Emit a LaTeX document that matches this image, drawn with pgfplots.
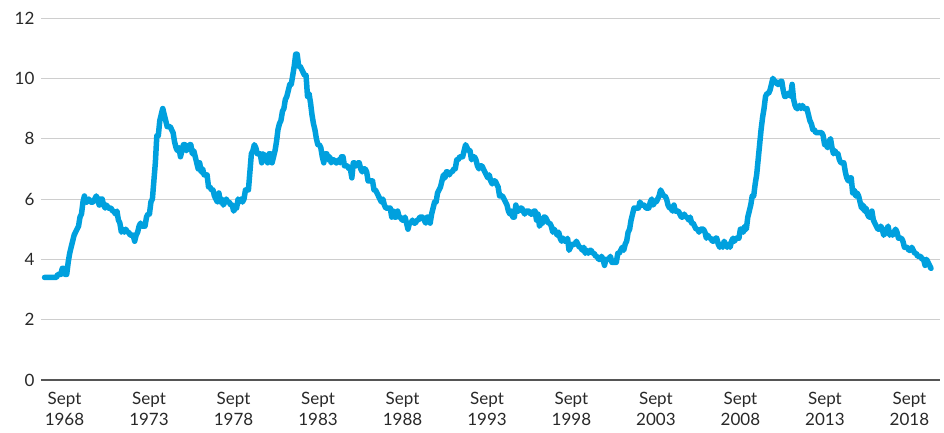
\documentclass[border=0pt]{standalone}
\usepackage{fontspec}
\setmainfont{Lato}
\usepackage{pgfplots}
\pgfplotsset{compat=1.18}
\definecolor{lineblue}{RGB}{0,160,222}
\definecolor{gridgray}{RGB}{206,206,206}
\definecolor{axisgray}{RGB}{85,85,85}
\definecolor{textgray}{RGB}{40,40,40}

\begin{document}
\begin{tikzpicture}
\begin{axis}[
  scale only axis, width=899pt, height=362pt,
  xmin=-2.4, xmax=606.1, ymin=0, ymax=12,
  ytick={2,4,...,12},
  extra y ticks={0},
  extra y tick style={grid style={axisgray, line width=1.6pt}},
  ymajorgrids, grid style={gridgray, line width=1pt},
  axis line style={draw=none},
  major tick length=0pt,
  xtick={13.5,70.7,127.9,185.1,242.3,299.5,356.6,413.8,471.0,528.2,585.4},
  xticklabels={{Sept\\1968},{Sept\\1973},{Sept\\1978},{Sept\\1983},{Sept\\1988},{Sept\\1993},{Sept\\1998},{Sept\\2003},{Sept\\2008},{Sept\\2013},{Sept\\2018}},
  tick label style={font=\fontsize{17}{20.5}\selectfont, text=textgray},
  xticklabel style={align=center, yshift=-9pt},
  yticklabel style={xshift=-3pt},
  /pgf/number format/assume math mode=true,
  clip=false,
]
% monthly rate, Sept 1968 = 0
\addplot[lineblue, line width=5.5pt, line join=round, line cap=round, no markers]
  table[row sep=\\, x expr=\coordindex, y index=0] {
u\\
3.4\\3.4\\3.4\\3.4\\
3.4\\3.4\\3.4\\3.4\\3.4\\3.5\\3.5\\3.5\\3.7\\3.7\\3.5\\3.5\\
3.9\\4.2\\4.4\\4.6\\4.8\\4.9\\5.0\\5.1\\5.4\\5.5\\5.9\\6.1\\
5.9\\5.9\\6.0\\5.9\\5.9\\5.9\\6.0\\6.1\\6.0\\5.8\\6.0\\6.0\\
5.8\\5.7\\5.8\\5.7\\5.7\\5.7\\5.6\\5.6\\5.5\\5.6\\5.3\\5.2\\
4.9\\5.0\\4.9\\5.0\\4.9\\4.9\\4.8\\4.8\\4.8\\4.6\\4.8\\4.9\\
5.1\\5.2\\5.1\\5.1\\5.1\\5.4\\5.5\\5.5\\5.9\\6.0\\6.6\\7.2\\
8.1\\8.1\\8.6\\8.8\\9.0\\8.8\\8.6\\8.4\\8.4\\8.4\\8.3\\8.2\\
7.9\\7.7\\7.6\\7.7\\7.4\\7.6\\7.8\\7.8\\7.6\\7.7\\7.8\\7.8\\
7.5\\7.6\\7.4\\7.2\\7.0\\7.2\\6.9\\7.0\\6.8\\6.8\\6.8\\6.4\\
6.4\\6.3\\6.3\\6.1\\6.0\\5.9\\6.2\\5.9\\6.0\\5.8\\5.9\\6.0\\
5.9\\5.9\\5.8\\5.8\\5.6\\5.7\\5.7\\6.0\\5.9\\6.0\\5.9\\6.0\\
6.3\\6.3\\6.3\\6.9\\7.5\\7.6\\7.8\\7.7\\7.5\\7.5\\7.5\\7.2\\
7.5\\7.4\\7.4\\7.2\\7.5\\7.5\\7.2\\7.4\\7.6\\7.9\\8.3\\8.5\\
8.6\\8.9\\9.0\\9.3\\9.4\\9.6\\9.8\\9.8\\10.1\\10.4\\10.8\\10.8\\
10.4\\10.4\\10.3\\10.2\\10.1\\10.1\\9.4\\9.5\\9.2\\8.8\\8.5\\8.3\\
8.0\\7.8\\7.8\\7.7\\7.4\\7.2\\7.5\\7.5\\7.3\\7.4\\7.2\\7.3\\
7.3\\7.2\\7.2\\7.3\\7.2\\7.4\\7.4\\7.1\\7.1\\7.1\\7.0\\7.0\\
6.7\\7.2\\7.2\\7.1\\7.2\\7.2\\7.0\\6.9\\7.0\\7.0\\6.9\\6.6\\
6.6\\6.6\\6.6\\6.3\\6.3\\6.2\\6.1\\6.0\\5.9\\6.0\\5.8\\5.7\\
5.7\\5.7\\5.7\\5.4\\5.6\\5.4\\5.4\\5.6\\5.4\\5.4\\5.3\\5.3\\
5.4\\5.2\\5.0\\5.2\\5.2\\5.3\\5.2\\5.2\\5.3\\5.3\\5.4\\5.4\\
5.4\\5.3\\5.2\\5.4\\5.4\\5.2\\5.5\\5.7\\5.9\\5.9\\6.2\\6.3\\
6.4\\6.6\\6.8\\6.7\\6.9\\6.9\\6.8\\6.9\\6.9\\7.0\\7.0\\7.3\\
7.3\\7.4\\7.4\\7.4\\7.6\\7.8\\7.7\\7.6\\7.6\\7.3\\7.4\\7.4\\
7.3\\7.1\\7.0\\7.1\\7.1\\7.0\\6.9\\6.8\\6.7\\6.8\\6.6\\6.5\\
6.6\\6.6\\6.5\\6.4\\6.1\\6.1\\6.1\\6.0\\5.9\\5.8\\5.6\\5.5\\
5.6\\5.4\\5.4\\5.8\\5.6\\5.6\\5.7\\5.7\\5.6\\5.5\\5.6\\5.6\\
5.6\\5.5\\5.5\\5.6\\5.6\\5.3\\5.5\\5.1\\5.2\\5.2\\5.4\\5.4\\
5.3\\5.2\\5.2\\5.1\\4.9\\5.0\\4.9\\4.8\\4.9\\4.7\\4.6\\4.7\\
4.6\\4.6\\4.7\\4.3\\4.4\\4.5\\4.5\\4.5\\4.6\\4.5\\4.4\\4.4\\
4.3\\4.4\\4.2\\4.3\\4.2\\4.3\\4.3\\4.2\\4.2\\4.1\\4.1\\4.0\\
4.0\\4.1\\4.0\\3.8\\4.0\\4.0\\4.0\\4.1\\3.9\\3.9\\3.9\\3.9\\
4.2\\4.2\\4.3\\4.4\\4.3\\4.5\\4.6\\4.9\\5.0\\5.3\\5.5\\5.7\\
5.7\\5.7\\5.7\\5.9\\5.8\\5.8\\5.8\\5.7\\5.7\\5.7\\5.9\\6.0\\
5.8\\5.9\\5.9\\6.0\\6.1\\6.3\\6.2\\6.1\\6.1\\6.0\\5.8\\5.7\\
5.7\\5.6\\5.8\\5.6\\5.6\\5.6\\5.5\\5.4\\5.4\\5.5\\5.4\\5.4\\
5.3\\5.4\\5.2\\5.2\\5.1\\5.0\\5.0\\4.9\\5.0\\5.0\\5.0\\4.9\\
4.7\\4.8\\4.7\\4.7\\4.6\\4.6\\4.7\\4.7\\4.5\\4.4\\4.5\\4.4\\
4.6\\4.5\\4.4\\4.5\\4.4\\4.6\\4.7\\4.6\\4.7\\4.7\\4.7\\5.0\\
5.0\\4.9\\5.1\\5.0\\5.4\\5.6\\5.8\\6.1\\6.1\\6.5\\6.8\\7.3\\
7.8\\8.3\\8.7\\9.0\\9.4\\9.5\\9.5\\9.6\\9.8\\10.0\\9.9\\9.9\\
9.8\\9.8\\9.9\\9.9\\9.6\\9.4\\9.4\\9.5\\9.5\\9.4\\9.8\\9.3\\
9.1\\9.0\\9.0\\9.1\\9.0\\9.1\\9.0\\9.0\\9.0\\8.8\\8.6\\8.5\\
8.3\\8.3\\8.2\\8.2\\8.2\\8.2\\8.2\\8.1\\7.8\\7.8\\7.7\\7.9\\
8.0\\7.7\\7.5\\7.6\\7.5\\7.5\\7.3\\7.2\\7.2\\7.2\\6.9\\6.7\\
6.6\\6.7\\6.7\\6.2\\6.3\\6.1\\6.2\\6.1\\5.9\\5.7\\5.8\\5.6\\
5.7\\5.5\\5.4\\5.4\\5.6\\5.3\\5.2\\5.1\\5.0\\5.0\\5.1\\5.0\\
4.8\\4.9\\5.0\\5.1\\4.8\\4.9\\4.8\\4.9\\5.0\\4.9\\4.7\\4.7\\
4.7\\4.6\\4.4\\4.4\\4.4\\4.3\\4.3\\4.4\\4.3\\4.2\\4.2\\4.1\\
4.1\\4.1\\4.0\\4.0\\3.8\\4.0\\3.9\\3.8\\3.7\\
};
\end{axis}
\pgfresetboundingbox
\useasboundingbox ([xshift=-41pt,yshift=-52pt]current axis.south west) rectangle ([xshift=4pt,yshift=18pt]current axis.north east);
\end{tikzpicture}
\end{document}
